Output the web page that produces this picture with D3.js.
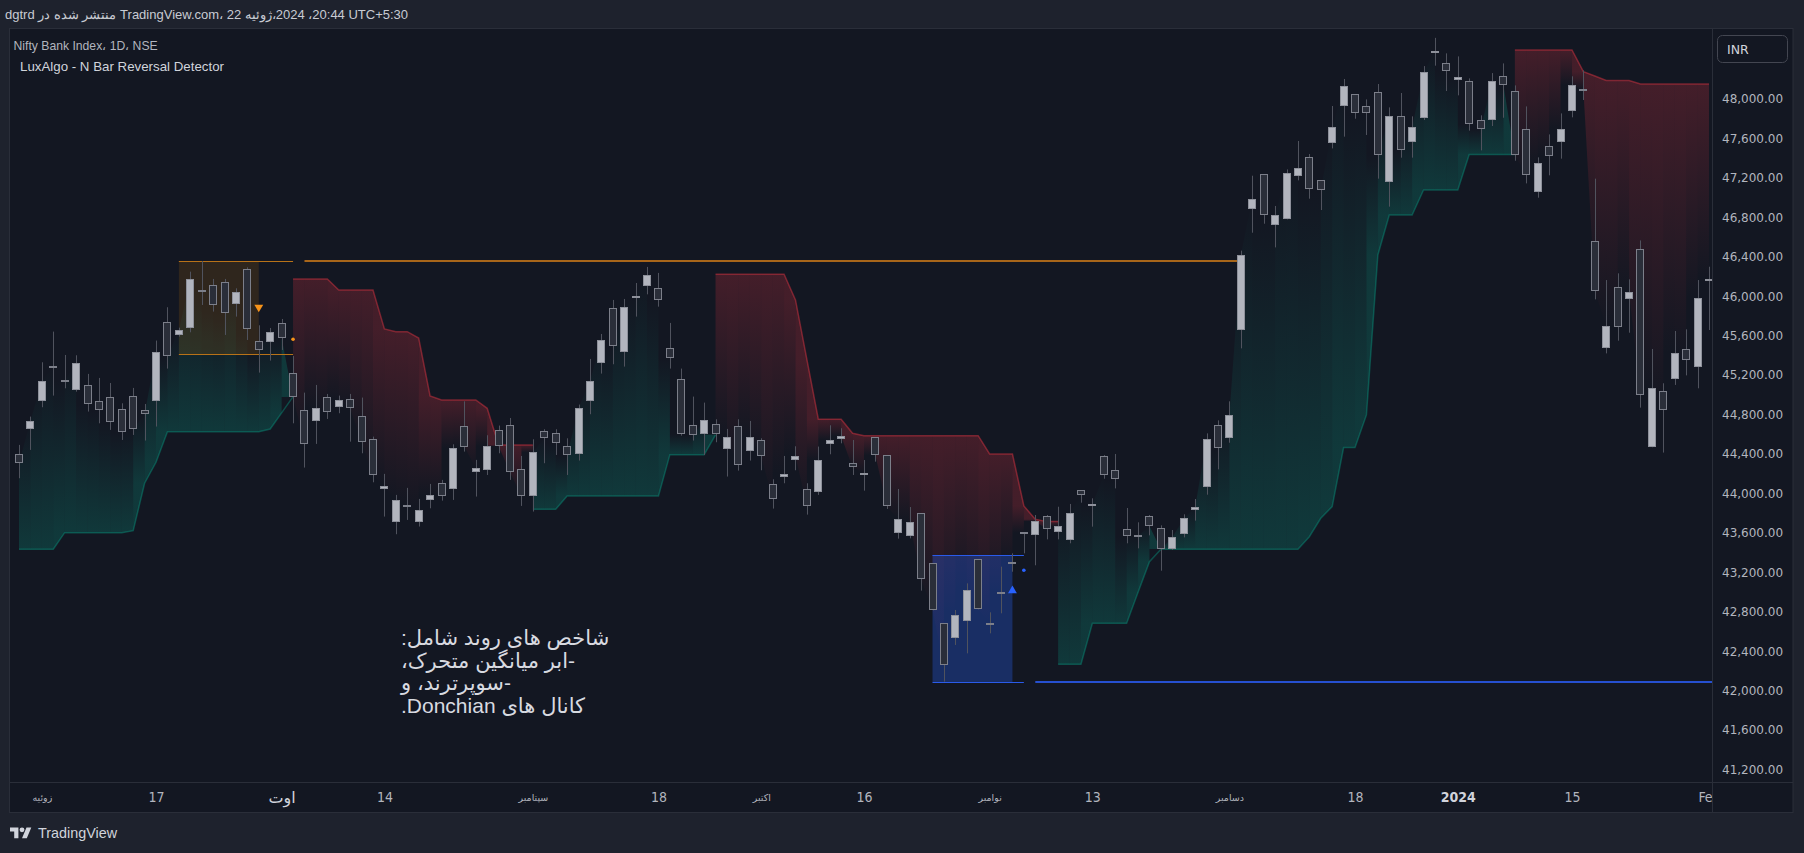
<!DOCTYPE html>
<html><head><meta charset="utf-8">
<script src="https://cdn.jsdelivr.net/npm/d3@7"></script>
<style>
html,body{margin:0;padding:0;background:#1e222d;overflow:hidden;}
svg{display:block;}
</style></head><body>
<svg id="chart" width="1804" height="853"></svg>
<script>
// ---------------- data ----------------
const opens = [44397,44651,44934,45295,45150,45046,45097,44934,44975,44853,
44985,44843,44934,45736,45604,45675,46062,46111,46141,45918,
46273,45543,45533,45725,45218,44843,44732,44975,44874,44955,
44782,44549,44042,43708,43885,43708,43931,44103,44042,44681,
44214,44235,44640,44691,44245,43971,44630,44610,44478,44397,
44934,45320,45877,45431,45979,46101,46080,45472,45157,44691,
44600,44701,44448,44681,44427,44539,44093,44164,44336,44042,
44012,44498,44549,44305,44183,44569,44386,43595,43565,43798,
43291,42682,42530,42703,43331,42687,43002,43306,43605,43575,
43767,43605,43524,44031,43869,44376,44234,43636,43580,43767,
43646,43433,43585,43828,44062,44690,44558,45657,46881,47236,
46719,46779,47215,47408,47175,47550,47925,48047,47925,48067,
47155,47824,47560,47804,48463,48361,48189,48179,47783,47783,
48230,48077,47692,47053,47520,47560,47875,48106,46556,45471,
46090,45968,46475,44468,45036,45158,45461,45279,46150];
const highs = [44492,44779,45330,45641,45404,45401,45212,45171,45120,44914,
45070,44907,45550,45888,45681,46249,46357,46175,46175,46080,
46293,45705,45678,45769,45394,45022,45100,45009,44992,45009,
44972,44576,44198,43985,44056,43944,44096,44137,44498,44934,
44340,44590,44688,44765,44380,44549,44651,44651,44559,44901,
45364,45617,45962,45972,46134,46297,46236,45729,45266,44982,
44921,44752,44654,44752,44735,44559,44143,44380,44478,44103,
44475,44691,44661,44542,44339,44569,44386,44045,43862,43798,
43291,42682,42818,43088,43331,42794,43257,43392,43605,43781,
43781,43865,43893,44031,43950,44389,44400,43852,43707,43781,
43676,43629,43788,43943,44609,44741,44934,46462,47222,47236,
46915,47286,47574,47442,47175,47929,48203,48047,47996,48152,
47915,48061,47824,48334,48620,48463,48432,48209,47834,48263,
48361,48138,47925,47408,47641,47854,48230,48290,47192,46164,
46232,46171,46566,45465,45117,45647,45664,46164,46299];
const lows = [44154,44441,44874,44992,45066,45032,44830,44711,44644,44542,
44593,44536,44678,45266,45590,45634,45911,45844,45607,45793,
45556,45225,45347,45455,44711,44262,44502,44755,44813,44525,
44407,44113,43765,43586,43731,43664,43849,43927,43934,44424,
43968,44187,44407,44137,43873,43816,44306,44390,44187,44333,
44803,45215,45310,45286,45793,46019,45894,45266,44586,44536,
44390,44519,44171,44231,44333,44235,43846,44103,44235,43785,
43985,44397,44508,44187,44028,44322,43842,43541,43544,43014,
42814,42091,42463,42378,42824,42581,42784,43206,43392,43271,
43534,43534,43494,43906,43663,44149,44051,43494,43443,43575,
43216,43426,43554,43724,43987,44244,44514,45471,46644,46735,
46495,46779,47175,46989,46874,47499,47618,47800,47635,47192,
46908,47405,47405,47787,48338,48081,48037,47679,47479,47726,
47810,47374,47144,46999,47226,47395,47814,47990,45968,45420,
45549,45630,44870,44468,44414,45100,45197,45066,45657];
const closes = [44306,44732,45137,45285,45140,45320,44904,44843,44722,44620,
44651,44803,45431,45391,45654,46172,46052,45908,45827,46040,
45665,45452,45634,45573,44975,44498,44863,44823,44945,44863,
44519,44184,44073,43931,43875,43829,43981,43971,44458,44475,
44255,44478,44478,44214,43971,44417,44559,44509,44387,44863,
45137,45553,45492,45888,45999,46212,45959,45370,44600,44590,
44742,44600,44569,44286,44569,44377,43941,44194,44377,43870,
44336,44539,44579,44264,44204,44386,43869,43737,43707,43129,
42814,42256,42763,43017,42824,42677,42992,43296,43600,43717,
43636,43666,43798,43980,43889,44183,44143,43565,43570,43666,
43433,43554,43747,43859,44548,44457,44792,46418,46989,46820,
46820,47246,47297,47084,47073,47712,48128,47854,47854,47428,
47824,47479,47712,48270,48490,48280,48219,47743,47692,48179,
48138,47428,47226,47347,47418,47692,48138,48096,46049,45694,
45684,46039,44995,45066,44843,45421,45349,45978,46175];

// trailing cloud line, one array per trend run (first value sits on the run's first bar)
const trailBullA = [43434,43434,43434,43434,43602,43602,43602,43602,43602,43602,43622,44103,44316,
44626,44626,44626,44626,44626,44626,44626,44626,44626,44653,44817,44981];
const trailBearB = [46175,46175,46175,46175,46063,46063,46063,46063,45668,45640,45640,45576,44988,
44948,44948,44948,44948,44863,44491,44491,44491,44491];
const trailBullC = [43839,43839,43839,43974,43974,43974,43974,43974,43974,43974,43974,43974,
44393,44393,44393,44393,44593];
const trailBearD = [46222,46222,46222,46222,46222,46222,46222,45962,45357,44752,44752,44752,44610,
44586,44586,44586,44586,44586,44586,44586,44586,44586,44586,44586,44400,44400,44400,43873,43738,43714,43714];
const trailBullE = [42267,42267,42267,42683,42683,42683,42683,42997,43308,
43434,43434,43434,43434,43434,43434,43434,43434,43434,43434,43434,43434,43434,
43561,43748,43866,44465,44465,44796,46418,46824,46824,46824,47077,47077,47077,47077,
47436,47436,47436,47436,47436];
const trailBearF = [48497,48497,48497,48497,48497,48497,48278,48233,48188,48188,48188,
48153,48153,48153,48153,48153,48153,48153];
const trailRuns = [
  {dir: 1, start: 0, vals: trailBullA},
  {dir: -1, start: 24, vals: trailBearB},
  {dir: 1, start: 45, vals: trailBullC},
  {dir: -1, start: 61, vals: trailBearD},
  {dir: 1, start: 91, vals: trailBullE},
  {dir: -1, start: 131, vals: trailBearF}
];

// N-bar reversal patterns
const bearPattern = {from: 14, to: 21, extendTo: 24, levelFrom: 25, levelTo: 107, top: 46357, bottom: 45411, signal: 45888, dot: 45563};
const bullPattern = {from: 80, to: 87, extendTo: 88, levelFrom: 89, levelTo: 148.3, top: 43376, bottom: 42085, signal: 43014, dot: 43220};

const priceTicks = [48000,47600,47200,46800,46400,46000,45600,45200,44800,44400,44000,43600,43200,42800,42400,42000,41600,41200];
const timeTickBars = [2, 12, 23, 32, 45, 56, 65, 74, 85, 94, 106, 117, 126, 136, 148];
const timeTickLabels = ["زوئیه","17","اوت","14","سپتامبر","18","اکتبر","16","نوامبر","13","دسامبر","18","2024","15","Feb"];

const headerText = "dgtrd منتشر شده در TradingView.com، 22 ژوئیه،\u200E2024 \u200E،20:44 UTC+5:30";
const symbolText = "Nifty Bank Index، 1D، NSE";
const indicatorText = "LuxAlgo - N Bar Reversal Detector";
const noteLines = ["شاخص های روند شامل:", "-ابر میانگین متحرک،", "-سوپرترند، و", "کانال های Donchian."];

// ---------------- drawing ----------------
const svg = d3.select("#chart");
const pane = {left: 10, right: 1712, top: 29, bottom: 782};
const x = d3.scaleLinear().domain([0, 148]).range([19, 1709]);
const y = d3.scaleLinear().domain([41200, 48000]).range([769.5, 99]);

const BG = "#131722", OUTER = "#1e222d", LINE = "#2a2e39";
const TXT = "#b2b5be", TXT2 = "#d1d4dc";

svg.append("rect").attr("width", 1804).attr("height", 853).attr("fill", OUTER);
svg.append("rect").attr("x", 9.5).attr("y", 28.5).attr("width", 1783.5).attr("height", 784)
  .attr("fill", BG).attr("stroke", LINE);

const defs = svg.append("defs");
defs.append("clipPath").attr("id", "plotClip").append("rect")
  .attr("x", pane.left).attr("y", pane.top).attr("width", pane.right - pane.left).attr("height", pane.bottom - pane.top);
defs.append("clipPath").attr("id", "timeClip").append("rect")
  .attr("x", pane.left).attr("y", pane.bottom).attr("width", pane.right - pane.left).attr("height", 31);

const plot = svg.append("g").attr("clip-path", "url(#plotClip)");

// cloud fills between trailing line and close, per-bar gradients
const pieces = [];
trailRuns.forEach(run => {
  for (let k = 0; k < run.vals.length - 1; k++) {
    pieces.push({dir: run.dir, i0: run.start + k, t0: run.vals[k], i1: run.start + k + 1, t1: run.vals[k + 1]});
  }
});
const colOf = dir => dir > 0 ? "#089981" : "#f23645";
const grads = defs.selectAll("linearGradient.cg").data(pieces).join("linearGradient")
  .attr("class", "cg").attr("id", (d, k) => "cg" + k)
  .attr("gradientUnits", "userSpaceOnUse")
  .attr("x1", 0).attr("x2", 0)
  .attr("y1", d => y(d.t1)).attr("y2", d => y(closes[d.i1]));
grads.append("stop").attr("offset", 0).attr("stop-color", d => colOf(d.dir)).attr("stop-opacity", d => d.dir > 0 ? 0.26 : 0.22);
grads.append("stop").attr("offset", 1).attr("stop-color", d => colOf(d.dir)).attr("stop-opacity", 0);

plot.append("g").selectAll("path").data(pieces).join("path")
  .attr("d", d => d3.line()([[x(d.i0), y(d.t0)], [x(d.i1), y(d.t1)], [x(d.i1), y(closes[d.i1])], [x(d.i0), y(closes[d.i0])]]) + "Z")
  .attr("fill", (d, k) => `url(#cg${k})`);

const trailLine = d3.line().x(d => x(d.i)).y(d => y(d.v));
plot.append("g").selectAll("path").data(trailRuns).join("path")
  .attr("d", r => trailLine(r.vals.map((v, k) => ({i: r.start + k, v}))))
  .attr("fill", "none")
  .attr("stroke", r => r.dir > 0 ? "rgba(8,153,129,0.42)" : "rgba(242,54,69,0.42)")
  .attr("stroke-width", 1.5);

// pattern boxes and levels
function drawPattern(p, fill, border, level, isBear) {
  const g = plot.append("g");
  g.append("rect").attr("x", x(p.from)).attr("width", x(p.to) - x(p.from))
    .attr("y", y(p.top)).attr("height", y(p.bottom) - y(p.top)).attr("fill", fill);
  g.selectAll("line.b").data([p.top, p.bottom]).join("line").attr("class", "b")
    .attr("x1", x(p.from)).attr("x2", x(p.extendTo)).attr("y1", v => Math.round(y(v)) + 0.5).attr("y2", v => Math.round(y(v)) + 0.5)
    .attr("stroke", border).attr("stroke-width", 1);
  const lv = isBear ? p.top : p.bottom;
  g.append("line").attr("x1", x(p.levelFrom)).attr("x2", x(p.levelTo))
    .attr("y1", Math.round(y(lv))).attr("y2", Math.round(y(lv)))
    .attr("stroke", level).attr("stroke-width", 2);
}
drawPattern(bearPattern, "rgba(255,152,0,0.12)", "#b87218", "#a8661a", true);
drawPattern(bullPattern, "rgba(41,98,255,0.30)", "#2a5bea", "#2650d0", false);

// candles
const idx = d3.range(opens.length);
const cg = plot.append("g");
cg.selectAll("line.w").data(idx).join("line").attr("class", "w")
  .attr("x1", i => Math.round(x(i)) + 0.5).attr("x2", i => Math.round(x(i)) + 0.5)
  .attr("y1", i => y(highs[i])).attr("y2", i => y(lows[i]))
  .attr("stroke", "#50535e").attr("stroke-width", 1);
cg.selectAll("rect.b").data(idx).join("rect").attr("class", "b")
  .each(function(i) {
    const top = Math.round(Math.min(y(opens[i]), y(closes[i])));
    const bot = Math.round(Math.max(y(opens[i]), y(closes[i])));
    const up = closes[i] >= opens[i];
    d3.select(this)
      .attr("x", Math.round(x(i)) - 3.5).attr("width", 8 - 1)
      .attr("y", top + 0.5).attr("height", Math.max(bot - top - 1, 1))
      .attr("fill", up ? "#b2b5be" : "#2a2e39")
      .attr("stroke", up ? "#8e919b" : "#7c7f8a").attr("stroke-width", 1);
  });

// signal markers
const tri = d3.symbol().type(d3.symbolTriangle).size(34);
plot.append("path").attr("d", tri())
  .attr("transform", `translate(${x(bearPattern.to)},${y(bearPattern.signal)}) rotate(180)`).attr("fill", "#f7931a");
plot.append("path").attr("d", tri())
  .attr("transform", `translate(${x(bullPattern.to)},${y(bullPattern.signal)})`).attr("fill", "#2962ff");
plot.append("circle").attr("cx", x(bearPattern.extendTo)).attr("cy", y(bearPattern.dot)).attr("r", 1.8).attr("fill", "#f7931a");
plot.append("circle").attr("cx", x(bullPattern.extendTo)).attr("cy", y(bullPattern.dot)).attr("r", 1.8).attr("fill", "#2962ff");

// axes separators
svg.append("line").attr("x1", 1712.5).attr("x2", 1712.5).attr("y1", 28.5).attr("y2", 812.5).attr("stroke", LINE);
svg.append("line").attr("x1", 9.5).attr("x2", 1793).attr("y1", 782.5).attr("y2", 782.5).attr("stroke", LINE);

// price axis
const yAxis = d3.axisRight(y).tickValues(priceTicks).tickFormat(d3.format(",.2f")).tickSize(0).tickPadding(9.5);
const ya = svg.append("g").attr("transform", "translate(1712.5,0)").call(yAxis);
ya.select(".domain").remove();
ya.selectAll("text").attr("fill", TXT).attr("font-family", "DejaVu Sans, sans-serif").attr("font-size", 12);

// time axis
const xAxis = d3.axisBottom(x).tickValues(timeTickBars).tickFormat((d, k) => timeTickLabels[k]).tickSize(0).tickPadding(0);
const xa = svg.append("g").attr("clip-path", "url(#timeClip)").append("g").attr("transform", `translate(0,${pane.bottom})`).call(xAxis);
xa.select(".domain").remove();
const NARROW = "Liberation Sans Narrow, DejaVu Sans Condensed, sans-serif";
xa.selectAll("text").each(function(d, k) {
  const t = timeTickLabels[k];
  const s = d3.select(this).attr("fill", TXT).attr("dy", null).attr("y", 20);
  if (/^[0-9]+$/.test(t) && t !== "2024") s.attr("font-family", NARROW).attr("font-size", 14);
  else if (t === "2024") s.attr("font-family", NARROW).attr("font-size", 14).attr("font-weight", "bold").attr("fill", TXT2);
  else if (t === "اوت") s.attr("font-family", "DejaVu Sans, sans-serif").attr("font-size", 16).attr("y", 21).attr("fill", TXT2);
  else if (t === "Feb") s.attr("font-family", NARROW).attr("font-size", 14);
  else s.attr("font-family", "DejaVu Sans, sans-serif").attr("font-size", 9.5).attr("y", 19);
});

// currency box
svg.append("rect").attr("x", 1717.5).attr("y", 35.5).attr("width", 70).attr("height", 27).attr("rx", 5)
  .attr("fill", BG).attr("stroke", "#434651");
svg.append("text").attr("x", 1727).attr("y", 54).text("INR")
  .attr("fill", TXT2).attr("font-family", "DejaVu Sans, sans-serif").attr("font-size", 12.5);

// titles
svg.append("text").attr("x", 5).attr("y", 19).text(headerText)
  .attr("fill", "#c8cbd3").attr("font-family", "Liberation Sans, Arial, sans-serif").attr("font-size", 13);
svg.append("text").attr("x", 13.5).attr("y", 49.5).text(symbolText)
  .attr("fill", TXT).attr("font-family", "Liberation Sans, Arial, sans-serif").attr("font-size", 12.2);
svg.append("text").attr("x", 20).attr("y", 71).text(indicatorText)
  .attr("fill", TXT2).attr("font-family", "Liberation Sans, sans-serif").attr("font-size", 13.3);

// note block (RTL, left aligned)
svg.append("g").selectAll("text").data(noteLines).join("text")
  .attr("x", 401).attr("y", (d, k) => 645 + k * 22.5)
  .attr("direction", "rtl").attr("text-anchor", "end")
  .attr("fill", "#d8dae0").attr("font-family", "Liberation Sans, DejaVu Sans, sans-serif").attr("font-size", 21)
  .text(d => d);

// TradingView logo
const logo = svg.append("g").attr("transform", "translate(10,825) scale(0.6)").attr("fill", TXT2);
logo.append("path").attr("d", "M14 22H7V11H0V4h14v18zM28 22h-8l7.5-18h8L28 22z");
logo.append("circle").attr("cx", 20).attr("cy", 8).attr("r", 4);
svg.append("text").attr("x", 38).attr("y", 838).text("TradingView")
  .attr("fill", TXT2).attr("font-family", "Liberation Sans, sans-serif").attr("font-size", 15)
  .attr("textLength", 79).attr("lengthAdjust", "spacingAndGlyphs");
</script>
</body></html>
